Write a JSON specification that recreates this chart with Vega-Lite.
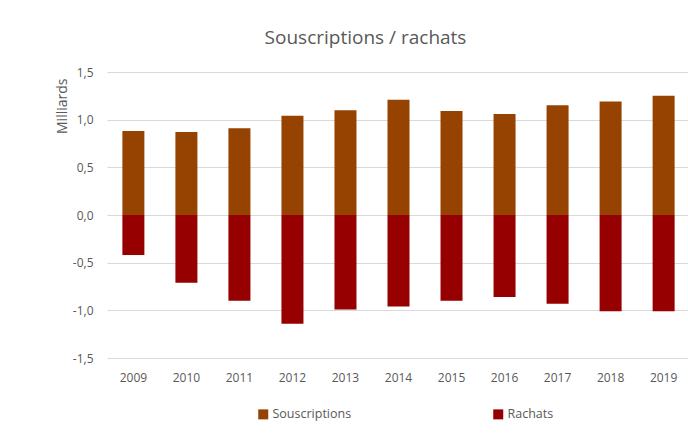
{
  "$schema": "https://vega.github.io/schema/vega-lite/v6.json",
  "autosize": {"type": "none"},
  "padding": {"left": 107, "top": 72, "right": 0, "bottom": 76},
  "width": 583,
  "height": 286,
  "background": "white",
  "title": {
    "text": "Souscriptions / rachats",
    "fontSize": 19,
    "font": "Open Sans",
    "fontWeight": "normal",
    "color": "#595959",
    "anchor": "middle",
    "frame": "group",
    "dx": -33,
    "offset": 18
  },
  "data": {
    "values": [
      {"annee": "2009", "serie": "Souscriptions", "valeur": 0.88},
      {"annee": "2010", "serie": "Souscriptions", "valeur": 0.87},
      {"annee": "2011", "serie": "Souscriptions", "valeur": 0.91},
      {"annee": "2012", "serie": "Souscriptions", "valeur": 1.04},
      {"annee": "2013", "serie": "Souscriptions", "valeur": 1.10},
      {"annee": "2014", "serie": "Souscriptions", "valeur": 1.21},
      {"annee": "2015", "serie": "Souscriptions", "valeur": 1.09},
      {"annee": "2016", "serie": "Souscriptions", "valeur": 1.06},
      {"annee": "2017", "serie": "Souscriptions", "valeur": 1.15},
      {"annee": "2018", "serie": "Souscriptions", "valeur": 1.19},
      {"annee": "2019", "serie": "Souscriptions", "valeur": 1.25},
      {"annee": "2009", "serie": "Rachats", "valeur": -0.42},
      {"annee": "2010", "serie": "Rachats", "valeur": -0.71},
      {"annee": "2011", "serie": "Rachats", "valeur": -0.90},
      {"annee": "2012", "serie": "Rachats", "valeur": -1.14},
      {"annee": "2013", "serie": "Rachats", "valeur": -0.99},
      {"annee": "2014", "serie": "Rachats", "valeur": -0.96},
      {"annee": "2015", "serie": "Rachats", "valeur": -0.90},
      {"annee": "2016", "serie": "Rachats", "valeur": -0.86},
      {"annee": "2017", "serie": "Rachats", "valeur": -0.93},
      {"annee": "2018", "serie": "Rachats", "valeur": -1.01},
      {"annee": "2019", "serie": "Rachats", "valeur": -1.01}
    ]
  },
  "mark": {"type": "bar"},
  "encoding": {
    "x": {
      "field": "annee",
      "type": "ordinal",
      "scale": {"paddingInner": 0.585, "paddingOuter": 0.29},
      "axis": {
        "title": null,
        "labelAngle": 0,
        "domain": false,
        "ticks": false,
        "tickSize": 0,
        "labelPadding": 14,
        "grid": false
      }
    },
    "y": {
      "field": "valeur",
      "type": "quantitative",
      "stack": null,
      "scale": {"domain": [-1.5, 1.5], "nice": false},
      "axis": {
        "title": "Milliards",
        "titleAnchor": "end",
        "titleY": 6,
        "titleAlign": "right",
        "values": [-1.5, -1, -0.5, 0, 0.5, 1, 1.5],
        "format": ".1f",
        "domain": false,
        "ticks": false,
        "tickSize": 0,
        "labelPadding": 14,
        "titlePadding": 3,
        "gridColor": "#d9d9d9",
        "gridWidth": 1
      }
    },
    "color": {
      "field": "serie",
      "type": "nominal",
      "scale": {"domain": ["Souscriptions", "Rachats"], "range": ["#964200", "#960000"]},
      "legend": {
        "title": null,
        "orient": "none",
        "legendX": 150,
        "legendY": 336,
        "direction": "horizontal",
        "columnPadding": 140,
        "symbolType": "square",
        "symbolSize": 100,
        "symbolStrokeWidth": 0,
        "labelFontSize": 12.5,
        "labelOffset": 3
      }
    }
  },
  "config": {
    "locale": {
      "number": {"decimal": ",", "thousands": " ", "grouping": [3], "currency": ["", " €"], "minus": "-"}
    },
    "font": "Open Sans",
    "view": {"stroke": null},
    "axis": {
      "labelFont": "Open Sans",
      "labelFontSize": 12,
      "labelColor": "#595959",
      "titleFont": "Open Sans",
      "titleFontSize": 14,
      "titleFontWeight": "normal",
      "titleColor": "#595959"
    },
    "legend": {"labelFont": "Open Sans", "labelColor": "#595959"}
  }
}
